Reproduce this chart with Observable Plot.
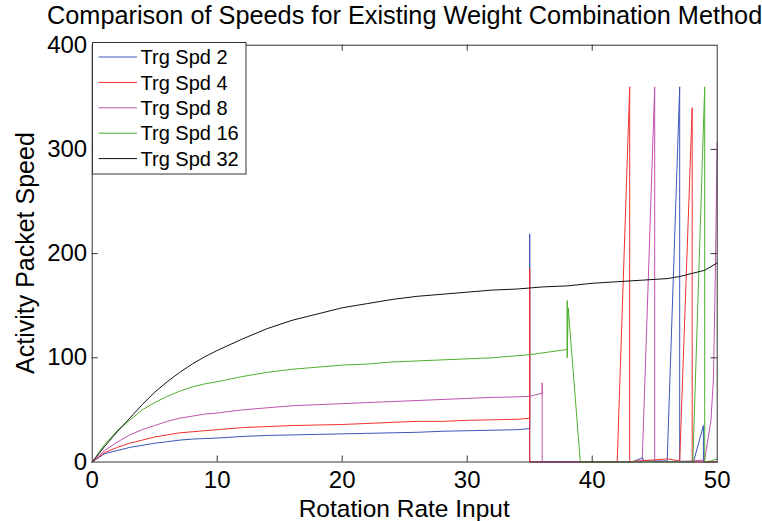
<!DOCTYPE html>
<html>
<head>
<meta charset="utf-8">
<script src="https://cdn.jsdelivr.net/npm/d3@7"></script>
<script src="https://cdn.jsdelivr.net/npm/@observablehq/plot@0.6"></script>
<style>
  html, body { margin: 0; padding: 0; background: #fff; }
  svg { display: block; }
</style>
</head>
<body>
<div id="chart"></div>
<script>
// ---------- data ----------
const seriesNames = ["Trg Spd 2", "Trg Spd 4", "Trg Spd 8", "Trg Spd 16", "Trg Spd 32"];
const seriesColors = ["#3a56b8", "#f03030", "#c050b0", "#50b030", "#111111"];

const xTicks = [0, 10, 20, 30, 40, 50];
const yTicks = [0, 100, 200, 300, 400];

// common sampling of the smooth part of the curves
const xGrid = [0, 1, 2, 3, 4, 5, 6, 7, 8, 9, 10, 12, 14, 16, 18, 20, 22, 24, 26, 28, 30, 32, 34, 35];

const spd2  = [0, 8, 11, 14, 16, 18, 19.5, 21, 22, 22.5, 23, 24.5, 25.5, 26, 26.5, 27, 27.5, 28, 28.5, 29.5, 30, 30.5, 31, 32];
const spd4  = [0, 9, 14, 18, 21, 24, 26, 28, 29, 30, 31, 33, 34, 35, 35.5, 36, 37, 38, 39, 39, 40, 40.5, 41, 42];
const spd8  = [0, 11, 19, 26, 31, 35, 39, 42, 44, 46, 47, 50, 52, 54, 55, 56, 57, 58, 59, 60, 61, 62, 62.5, 63];
const spd16 = [0, 17, 30, 40, 50, 57, 63, 68, 72, 75, 77, 82, 86, 89, 91, 93, 94, 96, 97, 98, 99, 100, 102, 103];
const spd32 = [0, 15, 29, 42, 55, 67, 77, 86, 94, 101, 107, 118, 128, 136, 142, 148, 152, 156, 159, 161, 163, 165, 166, 167];

// the erratic part beyond x = 35, as [x, y] pairs
const tail2  = [[35, 219], [35, 0], [43.2, 0], [44, 4], [44.2, 1], [46, 1], [47, 360], [47, 0], [48.1, 0], [48.9, 35], [48.9, 0], [50, 0]];
const tail4  = [[35, 186], [35, 0], [42, 0], [43, 360], [43, 0], [43.5, 1], [45, 2], [46, 3], [47, 1], [48, 340], [48, 0], [50, 0]];
const tail8  = [[36, 66], [36, 76], [36, 0], [44, 0], [45, 360], [45, 0], [48, 1], [49, 2], [49.5, 40], [49.7, 80], [49.85, 180], [50, 306]];
const tail16 = [[38, 108], [38, 155], [38, 100], [38.08, 148], [39.05, 0], [48.05, 0], [49, 360], [49, 0], [49.5, 1], [50, 3]];
const tail32 = [[36, 168], [38, 169], [40, 171.5], [42, 173], [44, 174.5], [46, 176], [47, 178], [48, 181], [49, 184], [50, 191]];

const heads = [spd2, spd4, spd8, spd16, spd32];
const tails = [tail2, tail4, tail8, tail16, tail32];

const rows = seriesNames.flatMap((name, k) => [
  ...xGrid.map((x, i) => ({series: name, x, y: heads[k][i]})),
  ...tails[k].map(([x, y]) => ({series: name, x, y}))
]);

// ---------- layout ----------
const W = 762, H = 521;
const mL = 91.7, mR = 45.3, mT = 44.7, mB = 59.5;
const plotH = H - mT - mB;
const plotW = W - mL - mR;
const tickLen = 6;
const font = "'Liberation Sans', Arial, Helvetica, sans-serif";
const inner = (arr) => arr.slice(1, -1);

const chart = Plot.plot({
  width: W,
  height: H,
  marginLeft: mL,
  marginRight: mR,
  marginTop: mT,
  marginBottom: mB,
  style: {fontFamily: font, background: "#fff", color: "#000", overflow: "visible"},
  x: {domain: [0, 50]},
  y: {domain: [0, 400]},
  color: {domain: seriesNames, range: seriesColors},
  marks: [
    Plot.line(rows, {x: "x", y: "y", z: "series", stroke: "series", strokeWidth: 1, strokeLinejoin: "miter"}),
    // MATLAB-style inward ticks on all four sides
    Plot.tickX(inner(xTicks), {x: d => d, stroke: "#333", insetTop: plotH - tickLen}),
    Plot.tickX(inner(xTicks), {x: d => d, stroke: "#333", insetBottom: plotH - tickLen}),
    Plot.tickY(inner(yTicks), {y: d => d, stroke: "#333", insetRight: plotW - tickLen}),
    Plot.tickY(inner(yTicks), {y: d => d, stroke: "#333", insetLeft: plotW - tickLen}),
    Plot.frame({stroke: "#333", strokeWidth: 1}),
    Plot.axisX({ticks: xTicks, tickSize: 0, tickPadding: 9, fontSize: 24, label: null}),
    Plot.axisY({ticks: yTicks, tickSize: 0, tickPadding: 5, fontSize: 24, label: null})
  ]
});

document.getElementById("chart").appendChild(chart);

// ---------- title, axis labels, legend ----------
const svg = d3.select(chart);

svg.append("text")
  .attr("x", 47).attr("y", 24)
  .attr("text-anchor", "start")
  .attr("font-family", font).attr("font-size", 25.3)
  .attr("fill", "#000")
  .text("Comparison of Speeds for Existing Weight Combination Method");

svg.append("text")
  .attr("x", mL + plotW / 2).attr("y", 517)
  .attr("text-anchor", "middle")
  .attr("font-family", font).attr("font-size", 24.5)
  .attr("fill", "#000")
  .text("Rotation Rate Input");

svg.append("text")
  .attr("transform", `translate(34, ${mT + plotH / 2}) rotate(-90)`)
  .attr("text-anchor", "middle")
  .attr("font-family", font).attr("font-size", 25)
  .attr("fill", "#000")
  .text("Activity Packet Speed");

const lg = svg.append("g");
lg.append("rect")
  .attr("x", 92.5).attr("y", 42.5).attr("width", 153.5).attr("height", 131.5)
  .attr("fill", "#fff").attr("stroke", "#333").attr("stroke-width", 1);
seriesNames.forEach((name, i) => {
  const cy = 57 + i * 25.4;
  lg.append("line")
    .attr("x1", 98.5).attr("x2", 137).attr("y1", cy).attr("y2", cy)
    .attr("stroke", seriesColors[i]).attr("stroke-width", 1);
  lg.append("text")
    .attr("x", 140.5).attr("y", cy).attr("dy", "0.36em")
    .attr("text-anchor", "start")
    .attr("font-family", font).attr("font-size", 20)
    .attr("fill", "#000")
    .text(name);
});
</script>
</body>
</html>
